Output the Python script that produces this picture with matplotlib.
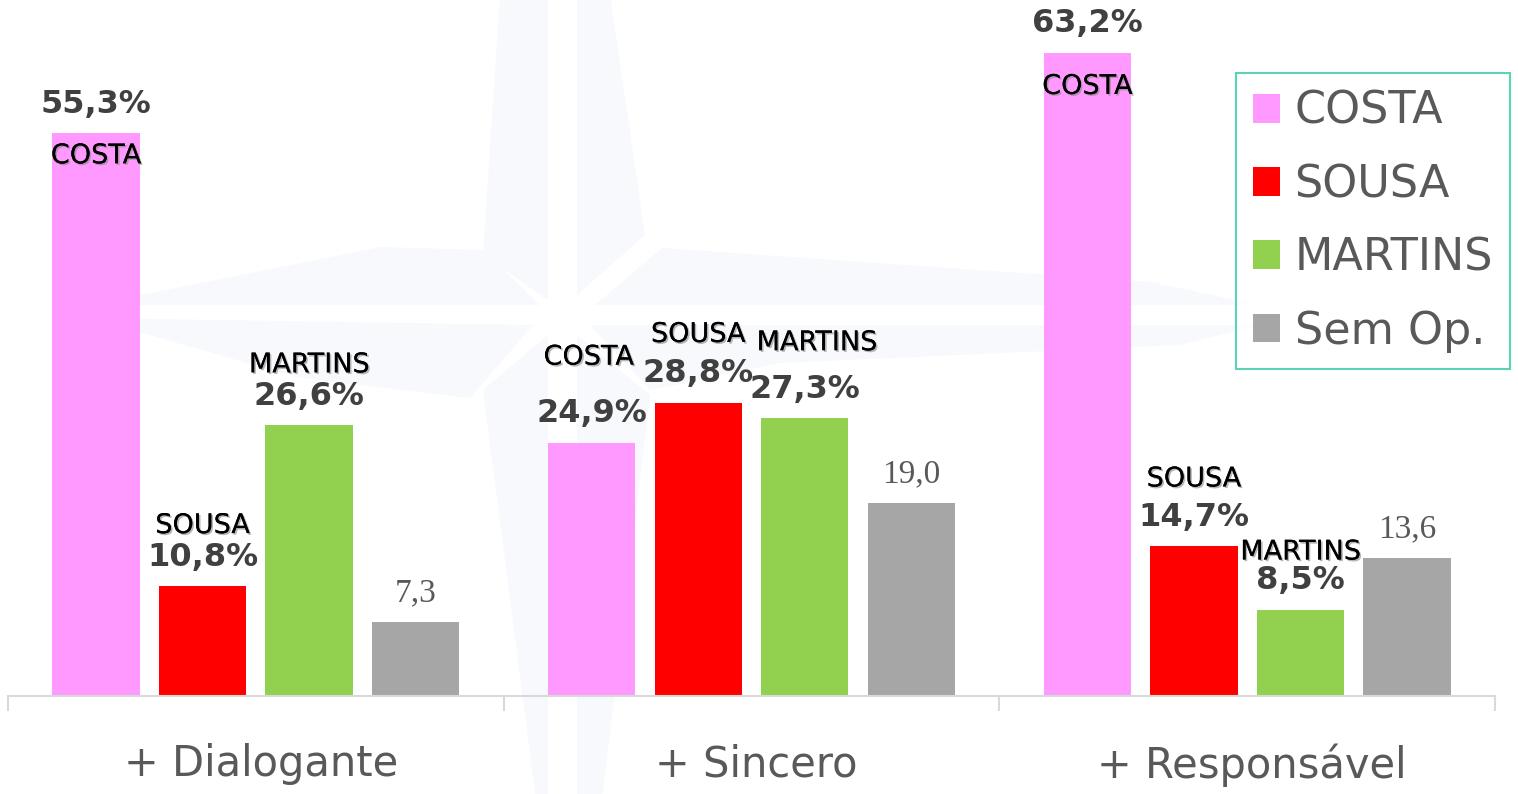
import numpy as np
import matplotlib
matplotlib.use("Agg")
import matplotlib.pyplot as plt
import matplotlib.patheffects as pe
from matplotlib.patches import Polygon, Patch

categories = ["+ Dialogante", "+ Sincero", "+ Responsável"]
series_names = ["COSTA", "SOUSA", "MARTINS", "Sem Op."]
costa = [55.3, 24.9, 63.2]
sousa = [10.8, 28.8, 14.7]
martins = [26.6, 27.3, 8.5]
sem_op = [7.3, 19.0, 13.6]

colors = ["#ff99ff", "#ff0000", "#92d050", "#a6a6a6"]

# label placement (pixels above bar top) for the name labels of the 3 candidates
name_dy = [[-23, 60, 60], [85, 68, 75], [-34, 67, 57]]
name_dx = [[0, 0, 0], [-3, 0, 12], [0, 0, 0]]

W, H = 1518, 794
fig = plt.figure(figsize=(W / 100, H / 100), dpi=100)

# faint compass-star watermark behind the chart (pixel coords, y down)
blades = [
    [(500, -5), (548, -5), (548, 300), (483, 255)],
    [(577, -5), (610, -5), (645, 235), (577, 295)],
    [(595, 305), (662, 248), (1150, 282), (1260, 305)],
    [(590, 325), (1260, 325), (1180, 345), (780, 363), (650, 390)],
    [(577, 335), (650, 395), (602, 800), (577, 800)],
    [(548, 335), (548, 800), (536, 800), (483, 390)],
    [(533, 325), (90, 318), (300, 378), (470, 398)],
    [(483, 250), (540, 305), (90, 305), (380, 247)],
]
for b in blades:
    fig.add_artist(Polygon([(px / W, 1 - py / H) for px, py in b], closed=True,
                           transform=fig.transFigure, facecolor="#f7f9fc",
                           edgecolor="none", zorder=0))

ax = fig.add_axes([8 / W, 98 / H, (1495 - 8) / W, 696 / H])
ax.patch.set_alpha(0)

x = np.arange(len(categories))
offsets = [-0.3225, -0.1075, 0.1075, 0.3225]
width = 0.176
values = [costa, sousa, martins, sem_op]

for i, vals in enumerate(values):
    ax.bar(x + offsets[i], vals, width=width, color=colors[i],
           label=series_names[i], zorder=2)

shadow = [pe.withSimplePatchShadow(offset=(1.2, -1.2), shadow_rgbFace="#888888", alpha=0.6),
          pe.Normal()]

for c in range(len(categories)):
    for i in range(3):
        v = values[i][c]
        xc = x[c] + offsets[i]
        ax.annotate(f"{v:.1f}%".replace(".", ","), (xc, v), xytext=(0, 29),
                    textcoords="offset pixels", ha="center", va="center",
                    fontsize=23, fontweight="bold", color="#404040",
                    family="DejaVu Sans", zorder=4)
        ax.annotate(series_names[i], (xc, v),
                    xytext=(name_dx[c][i], name_dy[c][i]),
                    textcoords="offset pixels", ha="center", va="center",
                    fontsize=19.5, color="black", family="DejaVu Sans",
                    path_effects=shadow, zorder=4)
    v = sem_op[c]
    ax.annotate(f"{v:.1f}".replace(".", ","), (x[c] + offsets[3], v),
                xytext=(0, 29), textcoords="offset pixels", ha="center",
                va="center", fontsize=24, color="#595959",
                family="Liberation Serif", zorder=4)

ax.set_xlim(-0.5, 2.5)
ax.set_ylim(0, 68.4)
ax.set_yticks([])
for s in ["top", "left", "right"]:
    ax.spines[s].set_visible(False)
ax.spines["bottom"].set_color("#d9d9d9")
ax.spines["bottom"].set_linewidth(1.5)

ax.set_xticks(x + 0.01)
ax.set_xticklabels(categories, fontsize=30, color="#595959", family="DejaVu Sans")
ax.tick_params(axis="x", which="major", length=0, pad=34)
ax.set_xticks([-0.5, 0.5, 1.5, 2.5], minor=True)
ax.tick_params(axis="x", which="minor", length=11, width=1.5, color="#d9d9d9")

handles = [Patch(facecolor=col, edgecolor="none") for col in colors]
leg = fig.legend(handles, series_names, loc="upper right",
                 bbox_to_anchor=(1510 / W, 1 - 73 / H), fontsize=32,
                 handlelength=0.62, handleheight=0.62, handletextpad=0.32,
                 labelspacing=0.68, borderpad=0.38, frameon=True,
                 fancybox=False, borderaxespad=0)
leg.get_frame().set_edgecolor("#33c9a3")
leg.get_frame().set_linewidth(1.5)
for t in leg.get_texts():
    t.set_color("#595959")

fig.savefig("out.png", dpi=100)
